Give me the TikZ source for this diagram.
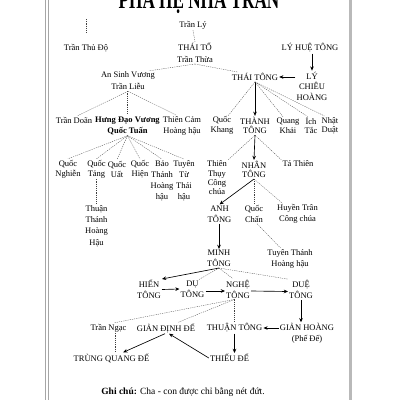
\documentclass[tikz,border=0pt]{standalone}
\usepackage{graphicx}
\usepackage{fontspec}
\setmainfont{Liberation Serif}
\usetikzlibrary{arrows.meta,calc}
\begin{document}
\begin{tikzpicture}[x=1pt,y=-1pt,
  t/.style={align=center,inner sep=1pt,font=\fontsize{8.5}{11}\selectfont},
  sp/.style={font=\fontsize{8.5}{#1}\selectfont},
  dsh/.style={draw=black!75,line width=0.3pt,dash pattern=on 1.2pt off 1pt},
  arr/.style={draw=black,line width=0.65pt,-{Stealth[length=4.2pt,width=3.6pt]}},
  frameline/.style={draw=gray!70,line width=#1},
]
\useasboundingbox (0,0) rectangle (400,400);
\fill[white] (0,0) rectangle (400,400);
% page frame
\draw[frameline=1.3pt] (45.8,-2) -- (45.8,402);
\draw[frameline=0.6pt] (48.6,-2) -- (48.6,402);
\draw[frameline=2.6pt,draw=gray!55] (350.3,-2) -- (350.3,402);
% title (cut at the top)
\node[anchor=base,inner sep=0] (title) at (199,8.5) {\fontsize{26}{26}\selectfont\bfseries\scalebox{0.66}[1]{PHẢ HỆ NHÀ TRẦN}};
% nodes
\node[t] (tranly) at (193,25) {Trần Lý};
\coordinate (tdA) at (86,19);
\coordinate (tdB) at (86,33);
\node[t] (thudo) at (86,48) {Trần Thủ Độ};
\node[t,sp=12] (thaito) at (195,53) {THÁI TỔ\\Trần Thừa};
\node[t] (lyhue) at (310,48) {LÝ HUỆ TÔNG};
\node[t,sp=10.5] (chieu) at (312,86) {LÝ\\CHIÊU\\HOÀNG};
\node[t] (thaitong) at (255,77) {THÁI TÔNG};
\node[t,sp=12] (ansinh) at (128,81) {An Sinh Vương\\Trần Liễu};
\node[t] (trandoan) at (74,120) {Trần Doãn};
\node[t,font=\fontsize{8.5}{11}\selectfont\bfseries] (hungdao) at (127.5,125.5) {Hưng Đạo Vương\\Quốc Tuấn};
\node[t] (thiencam) at (182,125.5) {Thiên Cảm\\Hoàng hậu};
\node[t,sp=10] (qnghien) at (68,169) {Quốc\\Nghiễn};
\node[t,sp=10] (qtang) at (96.5,169) {Quốc\\Tảng};
\node[t,sp=10] (quat) at (117,169) {Quốc\\Uất};
\node[t,sp=10] (qhien) at (140,169) {Quốc\\Hiện};
\node[t,sp=11] (baothanh) at (162,180.5) {Bảo\\Thánh\\Hoàng\\hậu};
\node[t,sp=11] (tuyentu) at (184,180.5) {Tuyên\\Từ\\Thái\\hậu};
\node[t,sp=11.3] (thuanthanh) at (96.5,226) {Thuận\\Thánh\\Hoàng\\Hậu};
\node[t,sp=9.5] (qkhang) at (222,125.5) {Quốc\\Khang};
\node[t,sp=9.5] (thanhtong) at (255,125.5) {THÀNH\\TÔNG};
\node[t,sp=9.5] (qkhai) at (288,125.5) {Quang\\Khải};
\node[t,sp=9.5] (ictac) at (311,125.5) {Ích\\Tắc};
\node[t,sp=9.5] (nhatduat) at (330,125.5) {Nhật\\Duật};
\node[t,sp=9.3] (thienthuy) at (217,178) {Thiên\\Thụy\\Công\\chúa};
\node[t,sp=9.3] (nhantong) at (254,169.5) {NHÂN\\TÔNG};
\node[t] (tathien) at (298,164) {Tá Thiên};
\node[t] (anhtong) at (219.5,214) {ANH\\TÔNG};
\node[t] (quocchan) at (254,214) {Quốc\\Chấn};
\node[t] (huyentran) at (297.5,214) {Huyền Trân\\Công chúa};
\node[t] (minhtong) at (219,258.5) {MINH\\TÔNG};
\node[t] (tuyenthanh) at (290,258.5) {Tuyên Thánh\\Hoàng hậu};
\node[t] (hientong) at (149,289.5) {HIẾN\\TÔNG};
\node[t] (dutong) at (192.5,289) {DỤ\\TÔNG};
\node[t] (nghetong) at (238,289) {NGHỆ\\TÔNG};
\node[t] (duetong) at (301,289.5) {DUỆ\\TÔNG};
\node[t] (trannga) at (108.5,328) {Trần Ngạc};
\node[t] (gdd) at (166,328) {GIẢN ĐỊNH ĐẾ};
\node[t] (thuantong) at (234.5,328) {THUẬN TÔNG};
\node[t] (gianhoang) at (307,333.5) {GIẢN HOÀNG\\(Phế Đế)};
\node[t] (trungquang) at (111.5,358) {TRÙNG QUANG ĐẾ};
\node[t] (thieude) at (229.5,358) {THIẾU ĐẾ};
\node[t,font=\fontsize{9.5}{11}\selectfont] (note) at (183,392) {\textbf{Ghi chú:} Cha - con được chỉ bằng nét đứt.};
% connectors
\draw[dsh] (tdA) -- (tdB);
\draw[dsh] (tranly.south) -- (thaito.north);
\draw[arr] (chieu.north |- lyhue.south) -- (chieu.north);
\draw[arr] (chieu.west |- thaitong.east) -- (thaitong.east);
\draw[dsh] (thaito.south) -- ($(ansinh.north)!0.75!(ansinh.north east)$);
\draw[dsh] (thaito.south) -- ($(thaitong.north west)!0.15!(thaitong.north east)$);
\draw[dsh] (ansinh.south) -- ($(trandoan.north)!0.2!(trandoan.north east)$);
\draw[dsh] (hungdao.north |- ansinh.south) -- (hungdao.north);
\draw[dsh] (ansinh.south) -- ($(thiencam.north west)!0.35!(thiencam.north east)$);
\foreach \c in {qnghien,qtang,quat,qhien,baothanh,tuyentu}
  \draw[dsh] (hungdao.south) -- (\c.north);
\draw[dsh] (qtang.south) -- (thuanthanh.north);
\draw[dsh] (thaitong.south) -- ($(qkhang.north)!0.5!(qkhang.north east)$);
\draw[arr] (thaitong.south) -- (thanhtong.north);
\draw[dsh] (thaitong.south) -- ($(qkhai.north west)!0.3!(qkhai.north east)$);
\draw[dsh] (thaitong.south) -- ($(ictac.north west)!0.2!(ictac.north east)$);
\draw[dsh] (thaitong.south) -- ($(nhatduat.north west)!0.2!(nhatduat.north east)$);
\draw[dsh] (thanhtong.south) -- (thienthuy.north east);
\draw[arr] (thanhtong.south) -- (nhantong.north);
\draw[dsh] (thanhtong.south) -- (tathien.north west);
\draw[arr] (nhantong.south) -- (anhtong.north);
\draw[dsh] (nhantong.south) -- (quocchan.north);
\draw[dsh] (nhantong.south) -- ($(huyentran.north west)!0.15!(huyentran.north east)$);
\draw[arr] (minhtong.north |- anhtong.south) -- (minhtong.north);
\draw[dsh] ($(quocchan.south)!0.3!(quocchan.south east)$) -- ($(tuyenthanh.north west)!0.3!(tuyenthanh.north east)$);
\draw[arr] (minhtong.south) -- (hientong.north east);
\draw[dsh] (minhtong.south) -- ($(dutong.north)!0.5!(dutong.north east)$);
\draw[dsh] (minhtong.south) -- ($(nghetong.north west)!0.3!(nghetong.north east)$);
\draw[dsh] (minhtong.south) -- (duetong.north west);
\draw[arr] (hientong.east) -- (dutong.west);
\draw[arr] ($(dutong.east)+(0,2)$) -- ($(nghetong.west)+(0,2)$);
\draw[arr] ($(nghetong.east)+(0,2)$) -- ($(duetong.west)+(0,2)$);
\draw[arr] (duetong.south) -- (duetong.south |- gianhoang.north);
\coordinate (ngB) at (thuantong.north |- nghetong.south);
\draw[dsh] (ngB) -- ($(trannga.north)!0.3!(trannga.north east)$);
\draw[dsh] (ngB) -- ($(gdd.north)!0.4!(gdd.north east)$);
\draw[dsh] (ngB) -- (thuantong.north);
\draw[arr] (gianhoang.west |- thuantong.east) -- (thuantong.east);
\draw[arr] (thuantong.south) -- (thuantong.south |- thieude.north);
\coordinate (tnb) at ($(trannga.south)!0.35!(trannga.south east)$);
\draw[dsh] (tnb) -- (tnb |- trungquang.north);
\draw[arr] ($(gdd.south)+(-1,0)$) -- ($(trungquang.north)!0.3!(trungquang.north east)$);
\draw[arr] (thieude.west) -- ($(gdd.south)+(3,0)$);
\end{tikzpicture}
\end{document}
